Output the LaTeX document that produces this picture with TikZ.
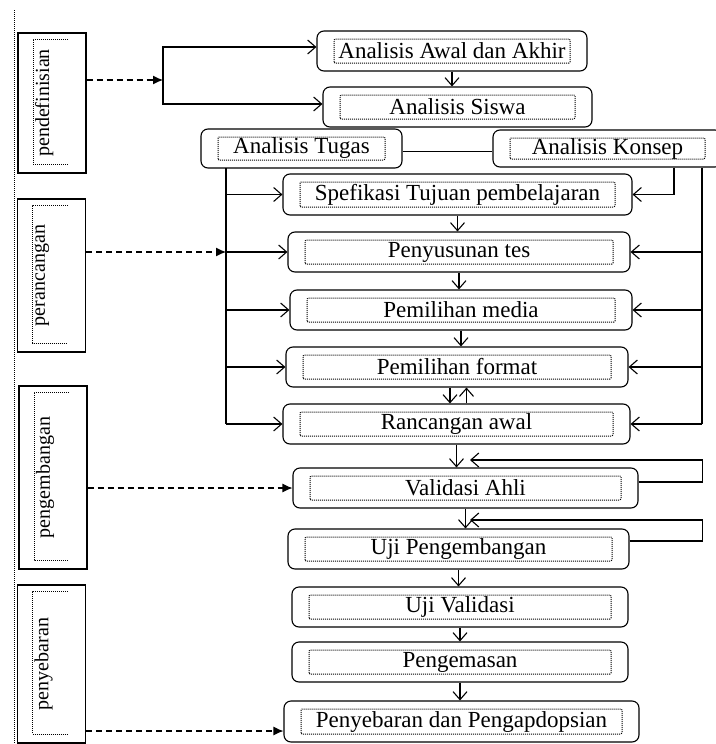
\documentclass[tikz,border=0pt]{standalone}
\usepackage{fontspec}
\setmainfont{Liberation Serif}
\usetikzlibrary{arrows.meta}

\begin{document}
\begin{tikzpicture}[>={Straight Barb[length=8pt,width=14pt]},x=1pt,y=-1pt,line width=1.1pt,
	titik/.style={line width=1pt,dash pattern=on 1pt off 1pt},
	tahap/.style={draw,rounded corners=7pt,minimum height=40pt,inner sep=2pt,font=\fontsize{23}{26}\selectfont,
		path picture={\draw[titik,rounded corners=1pt] ([shift={(17pt,8pt)}]path picture bounding box.south west) rectangle ([shift={(-17pt,-8pt)}]path picture bounding box.north east);}},
	fase/.style={draw,text width=34pt,inner xsep=17pt,align=left,font=\fontsize{20}{22}\selectfont,
		path picture={\draw[titik] ([shift={(-18pt,-6pt)}]path picture bounding box.north east) -| ([shift={(15pt,9pt)}]path picture bounding box.south west) -- ([shift={(-18pt,9pt)}]path picture bounding box.south east);}},
	putus/.style={dash pattern=on 6pt off 4pt,-{Latex[length=10pt,width=9pt]}}]
		\useasboundingbox (0,0) rectangle (715,744);
		\draw[titik] (14,10) -- (14,744);
		% fase
		\node[fase,minimum height=140pt] (p1) at (52,103) {\rotatebox{90}{pendefinisian}};
		\node[fase,minimum height=153pt] (p2) at (51.5,275.5) {\rotatebox{90}{perancangan}};
		\node[fase,minimum height=183pt] (p3) at (53,477.5) {\rotatebox{90}{pengembangan}};
		\node[fase,minimum height=158pt] (p4) at (51.5,664) {\rotatebox{90}{penyebaran}};
		% analisis
		\node[tahap,minimum width=270pt] (awal) at (452,51) {Analisis Awal dan Akhir};
		\node[tahap,minimum width=269pt] (siswa) at (457.5,107) {Analisis Siswa};
		\node[tahap,minimum width=201pt,minimum height=39pt] (tugas) at (301.5,148.5) {Analisis Tugas};
		\node[tahap,minimum width=229pt,minimum height=37pt] (konsep) at (607.5,148.5) {Analisis Konsep};
		% rancangan
		\node[tahap,minimum width=349pt,minimum height=41pt] (spes) at (457.5,194.5) {Spefikasi Tujuan pembelajaran};
		\node[tahap,minimum width=342pt] (tes) at (459,252) {Penyusunan tes};
		\node[tahap,minimum width=342pt] (media) at (461,310) {Pemilihan media};
		\node[tahap,minimum width=342pt] (format) at (457,367) {Pemilihan format};
		\node[tahap,minimum width=347pt] (rancangan) at (456.5,424) {Rancangan awal};
		% pengembangan dan penyebaran
		\node[tahap,minimum width=345pt] (validasi) at (465.5,488) {Validasi Ahli};
		\node[tahap,minimum width=341pt] (ujipeng) at (458.5,549) {Uji Pengembangan};
		\node[tahap,minimum width=336pt] (ujival) at (460,607) {Uji Validasi};
		\node[tahap,minimum width=336pt] (kemas) at (460,662) {Pengemasan};
		\node[tahap,minimum width=355pt,minimum height=41pt] (sebar) at (461.5,721.5) {Penyebaran dan Pengapdopsian};

		\coordinate (cabang) at (163,80);
		\draw[putus] (p1.east |- cabang) -- (cabang);
		\draw[->] (cabang) |- ([yshift=4pt]awal.west);
		\draw[->] (cabang) |- ([yshift=3pt]siswa.west);
		\draw[->] (awal.south) -- (awal.south |- siswa.north);
		\draw ([yshift=-3pt]tugas.east) -- ([yshift=-3pt]tugas.east -| konsep.west);

		\coordinate (ktugas) at (226,168);
		\draw (ktugas) -- (ktugas |- rancangan.west);
		\foreach \t in {spes,tes,media,format,rancangan}
			\draw[->] (ktugas |- \t.west) -- (\t.west);
		\draw[putus] (p2.east |- tes.west) -- (ktugas |- tes.west);

		\coordinate (kkonsep1) at ([xshift=66.5pt]konsep.south);
		\coordinate (kkonsep2) at ([xshift=94.5pt]konsep.south);
		\draw[->] (kkonsep1) |- (spes.east);
		\draw (kkonsep2) -- (kkonsep2 |- rancangan.east);
		\foreach \t in {tes,media,format,rancangan}
			\draw[->] (kkonsep2 |- \t.east) -- (\t.east);

		\foreach \a/\b in {spes/tes,tes/media,media/format,rancangan/validasi,validasi/ujipeng,ujipeng/ujival,ujival/kemas,kemas/sebar}
			\draw[->] (\a.south) -- (\a.south |- \b.north);
		\draw[->] ([xshift=-7pt]format.south) -- ([xshift=-7pt]format.south |- rancangan.north);
		\draw[->] ([xshift=10pt]rancangan.north) -- ([xshift=10pt]rancangan.north |- format.south);

		\coordinate (umpan1) at (470,460);
		\coordinate (umpan2) at (470,520);
		\draw[->] ([yshift=6pt]validasi.east) -- ++(64,0) |- (umpan1);
		\draw[->] ([yshift=8pt]ujipeng.east) -- ++(73,0) |- (umpan2);

		\draw[putus] (p3.east |- validasi.west) -- (validasi.west);
		\coordinate (sebarmasuk) at ([yshift=-9.5pt]sebar.west);
		\draw[putus] (p4.east |- sebarmasuk) -- (sebarmasuk);
\end{tikzpicture}
\end{document}
